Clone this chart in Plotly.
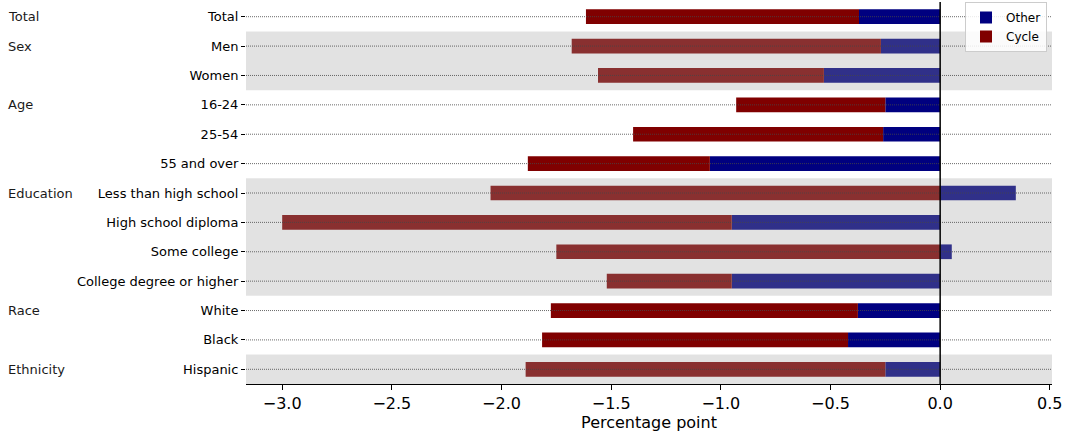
import plotly.graph_objects as go

categories = ["Total", "Men", "Women", "16-24", "25-54", "55 and over",
              "Less than high school", "High school diploma", "Some college",
              "College degree or higher", "White", "Black", "Hispanic"]
other = [-0.37, -0.27, -0.53, -0.25, -0.26, -1.05,
         0.345, -0.95, 0.053, -0.95, -0.375, -0.42, -0.25]
cycle = [-1.245, -1.41, -1.03, -0.68, -1.14, -0.83,
         -2.05, -2.05, -1.75, -0.57, -1.40, -1.395, -1.64]
groups = ["Total", "Sex", "Age", "Education", "Race", "Ethnicity"]
group_sizes = [1, 2, 3, 4, 2, 1]
group_shaded = [False, True, False, True, False, True]
x_ticks = [-3.0, -2.5, -2.0, -1.5, -1.0, -0.5, 0.0, 0.5]

FONT = "DejaVu Sans"
n = len(categories)

fig = go.Figure()
fig.add_trace(go.Bar(y=categories, x=other, orientation="h", name="Other",
                     marker=dict(color="#000080", line=dict(width=0)), width=0.5))
fig.add_trace(go.Bar(y=categories, x=cycle, orientation="h", name="Cycle",
                     marker=dict(color="#800000", line=dict(width=0)), width=0.5))

shapes = []
annotations = []
start = 0
for g, size, shaded in zip(groups, group_sizes, group_shaded):
    if shaded:
        shapes.append(dict(type="rect", xref="paper", yref="y",
                           x0=0, x1=1, y0=start - 0.5, y1=start + size - 0.5,
                           fillcolor="rgba(160,160,160,0.3)", line=dict(width=0),
                           layer="above"))
    annotations.append(dict(text=g, xref="paper", yref="y", x=-0.298, y=start,
                            xanchor="left", yanchor="middle", showarrow=False,
                            font=dict(family=FONT, size=13, color="#1a1a1a")))
    start += size

for i in range(n):
    shapes.append(dict(type="line", xref="paper", yref="y", x0=0, x1=1, y0=i, y1=i,
                       line=dict(color="rgba(70,70,70,0.8)", width=1, dash="1px,1px"),
                       layer="above"))

shapes.append(dict(type="line", xref="x", yref="paper", x0=0, x1=0, y0=0, y1=1,
                   line=dict(color="black", width=1.5), layer="above"))

fig.update_layout(
    width=1070, height=432,
    margin=dict(l=246, r=18, t=2, b=48),
    barmode="relative",
    plot_bgcolor="white", paper_bgcolor="white",
    font=dict(family=FONT, color="black"),
    shapes=shapes, annotations=annotations,
    showlegend=True,
    legend=dict(x=0.9938, y=1.0, xanchor="right", yanchor="top",
                bgcolor="rgba(255,255,255,0.85)", bordercolor="#cccccc", borderwidth=1,
                font=dict(family=FONT, size=12), traceorder="normal",
                tracegroupgap=2, itemwidth=30),
    xaxis=dict(range=[-3.165, 0.51], tickvals=x_ticks, tickformat=".1f",
               showgrid=False, zeroline=False, showline=True, linecolor="black",
               linewidth=1, ticks="outside", ticklen=5, tickcolor="black",
               tickfont=dict(family=FONT, size=16),
               title=dict(text="Percentage point", font=dict(family=FONT, size=16),
                          standoff=2)),
    yaxis=dict(type="category", categoryorder="array", categoryarray=categories,
               range=[n - 0.5, -0.5], showgrid=False, zeroline=False, showline=False,
               ticks="outside", ticklen=4, tickcolor="black",
               tickfont=dict(family=FONT, size=13)),
)

fig.write_html("out.html", config={"displayModeBar": False},
               post_script="document.body.style.margin='0';")
